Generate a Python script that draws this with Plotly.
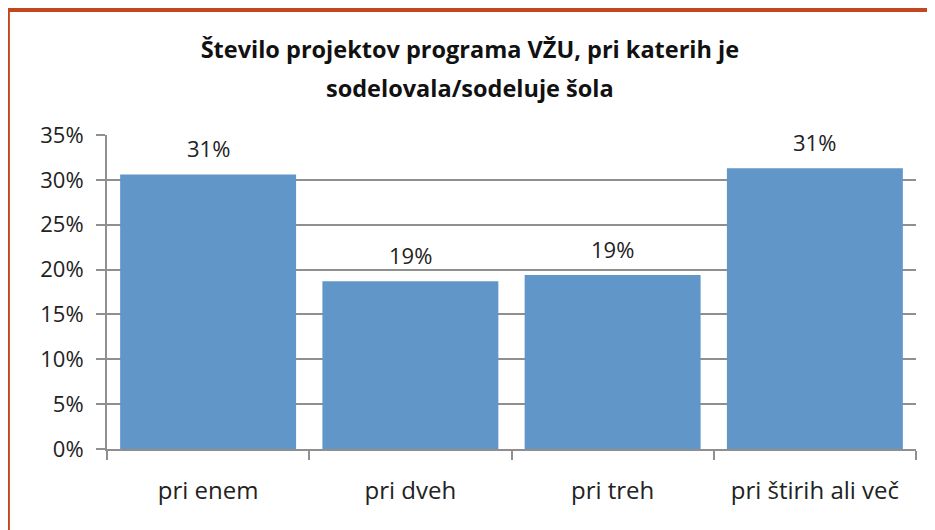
import plotly.graph_objects as go

# Podatki
kategorije = ["pri enem", "pri dveh", "pri treh", "pri štirih ali več"]
delezi = [30.6, 18.7, 19.4, 31.3]
y_ticki = [0, 5, 10, 15, 20, 25, 30, 35]
y_oznake = ["0%", "5%", "10%", "15%", "20%", "25%", "30%", "35%"]

fig = go.Figure()

fig.add_trace(go.Bar(
    x=kategorije,
    y=delezi,
    marker=dict(color="#6096c8", line=dict(width=0)),
    hovertemplate="%{x}: %{y:.1f}%<extra></extra>",
))

# oznake nad stolpci (malo višje kot privzeto)
for kat, vrednost in zip(kategorije, delezi):
    fig.add_annotation(
        x=kat, y=vrednost,
        text=f"{vrednost:.0f}%",
        showarrow=False,
        yanchor="bottom",
        yshift=9,
        font=dict(size=22, color="#222222"),
    )

fig.update_layout(
    width=935,
    height=530,
    margin=dict(l=99, r=27, t=127, b=89),
    paper_bgcolor="white",
    plot_bgcolor="white",
    font=dict(family="Open Sans, Lato, sans-serif", color="#222222"),
    title=dict(
        text="<b>Število projektov programa VŽU, pri katerih je</b>",
        x=0.494,
        xanchor="center",
        y=0.922,
        yanchor="middle",
        font=dict(size=23.5, color="#111111"),
    ),
    bargap=0.13,
    showlegend=False,
)

# druga vrstica naslova
fig.add_annotation(
    text="<b>sodelovala/sodeluje šola</b>",
    xref="paper", yref="paper",
    x=0.449, y=1.15,
    xanchor="center", yanchor="middle",
    showarrow=False,
    font=dict(size=23.5, color="#111111"),
)

fig.update_yaxes(
    range=[0, 35],
    tickvals=y_ticki,
    ticktext=y_oznake,
    showgrid=True,
    gridcolor="#8f8f8f",
    gridwidth=2,
    zeroline=False,
    showline=True,
    linecolor="#8f8f8f",
    linewidth=2,
    ticks="outside",
    ticklen=9,
    tickwidth=2,
    tickcolor="#8f8f8f",
    ticklabelstandoff=8,
    tickfont=dict(size=22, color="#222222"),
)

fig.update_xaxes(
    showline=True,
    linecolor="#8f8f8f",
    linewidth=2,
    ticks="outside",
    tickson="boundaries",
    ticklen=9,
    tickwidth=2,
    tickcolor="#8f8f8f",
    ticklabelstandoff=19,
    tickfont=dict(size=24, color="#222222"),
)

# oranžna obroba slike (zgoraj in levo)
fig.add_shape(type="line", xref="paper", yref="paper",
              x0=-0.1225, x1=1.1, y0=1.398, y1=1.398,
              line=dict(color="#c4461f", width=4))
fig.add_shape(type="line", xref="paper", yref="paper",
              x0=-0.1225, x1=-0.1225, y0=1.398, y1=-0.3,
              line=dict(color="#c4461f", width=4))

fig.write_html("out.html")
